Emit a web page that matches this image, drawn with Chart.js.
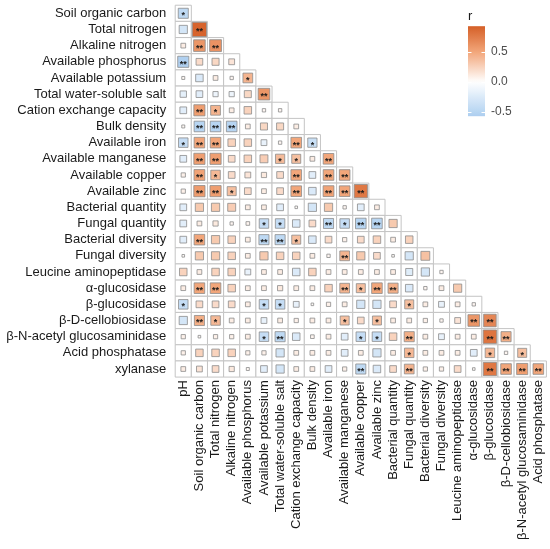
<!DOCTYPE html>
<html>
<head>
<meta charset="utf-8">
<script src="https://cdn.jsdelivr.net/npm/chart.js@4.4.1/dist/chart.umd.min.js"></script>
<style>
  html, body { margin: 0; padding: 0; background: #fff; }
  #wrap { width: 550px; height: 549px; }
</style>
</head>
<body>
<div id="wrap"><canvas id="corr" width="550" height="549"></canvas></div>
<script>
// ---- data ----
const colLabels = [
  'pH', 'Soil organic carbon', 'Total nitrogen', 'Alkaline nitrogen', 'Available phosphorus',
  'Available potassium', 'Total water-soluble salt', 'Cation exchange capacity', 'Bulk density',
  'Available iron', 'Available manganese', 'Available copper', 'Available zinc',
  'Bacterial quantity', 'Fungal quantity', 'Bacterial diversity', 'Fungal diversity',
  'Leucine aminopeptidase', 'α-glucosidase', 'β-glucosidase', 'β-D-cellobiosidase',
  'β-N-acetyl glucosaminidase', 'Acid phosphatase'
];
const rowLabels = colLabels.slice(1).concat(['xylanase']);

// r values, row i holds columns 0..i (lower triangle)
const corrR = [
  [-0.45],
  [-0.3, 0.9],
  [0.1, 0.6, 0.62],
  [-0.55, 0.2, 0.22, 0.15],
  [0.04, -0.25, 0.1, 0.05, 0.42],
  [-0.18, -0.2, -0.12, -0.12, 0.22, 0.6],
  [-0.2, 0.55, 0.42, 0.1, 0.25, 0.05, 0.05],
  [0.04, -0.5, -0.5, -0.5, 0.1, 0.22, 0.22, 0.1],
  [-0.4, 0.5, 0.5, 0.25, 0.25, -0.15, 0.05, 0.5, -0.38],
  [-0.2, 0.55, 0.55, 0.2, 0.25, 0.28, 0.38, 0.36, 0.1, 0.5],
  [0.08, 0.52, 0.4, 0.2, 0.15, 0.12, 0.2, 0.5, -0.2, 0.5, 0.5],
  [0.08, 0.56, 0.55, 0.36, 0.2, 0.1, 0.2, 0.5, -0.25, 0.52, 0.5, 0.78],
  [-0.2, 0.3, 0.3, 0.28, 0.1, 0.1, -0.2, 0.03, -0.3, 0.3, 0.05, -0.2, 0.1],
  [-0.2, 0.1, 0.12, 0.05, 0.06, -0.4, -0.4, -0.25, 0.2, -0.45, -0.4, -0.5, -0.5, 0.3],
  [-0.2, 0.5, 0.3, 0.25, 0.1, -0.45, -0.45, 0.36, -0.25, 0.2, 0.08, 0.2, 0.25, 0.1, 0.25],
  [0.03, 0.3, 0.3, 0.25, 0.1, 0.3, 0.25, 0.25, 0.1, 0.05, 0.42, 0.3, 0.2, 0.03, -0.3, 0.35],
  [0.25, 0.1, 0.25, 0.25, -0.15, 0.1, 0.1, -0.25, 0.25, 0.1, 0.1, 0.1, 0.1, 0.1, -0.22, -0.3, 0.05],
  [0.1, 0.5, 0.5, 0.25, 0.1, 0.1, 0.12, 0.1, 0.1, 0.25, 0.42, 0.36, 0.5, 0.45, -0.25, 0.05, 0.1, 0.3],
  [-0.4, 0.2, 0.2, 0.2, 0.1, -0.4, -0.4, -0.15, 0.03, 0.08, 0.1, -0.3, -0.3, 0.2, 0.36, 0.1, -0.15, 0.1, 0.05],
  [-0.3, 0.45, 0.4, 0.1, 0.1, -0.15, 0.1, 0.08, 0.1, 0.1, 0.36, 0.2, 0.36, 0.1, 0.1, 0.08, 0.05, 0.15, 0.6, 0.7],
  [0.08, 0.03, 0.08, 0.08, 0.1, -0.4, -0.45, -0.25, 0.06, 0.1, -0.2, -0.4, -0.4, 0.25, 0.45, 0.1, -0.15, 0.1, 0.1, 0.8, 0.45],
  [0.08, 0.25, 0.25, 0.25, 0.08, 0.08, -0.3, 0.1, 0.1, 0.1, -0.2, 0.1, -0.3, 0.1, 0.4, 0.1, 0.1, 0.1, -0.2, 0.4, 0.05, 0.36],
  [0.1, 0.15, 0.2, 0.12, 0.04, -0.2, -0.3, 0.1, 0.1, -0.2, 0.08, -0.45, -0.25, 0.2, 0.42, 0.08, 0.08, 0.2, 0.03, 0.78, 0.5, 0.55, 0.5]
];

// significance: 0 none, 1 = *, 2 = **
const corrSig = [
  [1],
  [0, 2],
  [0, 2, 2],
  [2, 0, 0, 0],
  [0, 0, 0, 0, 1],
  [0, 0, 0, 0, 0, 2],
  [0, 2, 1, 0, 0, 0, 0],
  [0, 2, 2, 2, 0, 0, 0, 0],
  [1, 2, 2, 0, 0, 0, 0, 2, 1],
  [0, 2, 2, 0, 0, 0, 1, 1, 0, 2],
  [0, 2, 1, 0, 0, 0, 0, 2, 0, 2, 2],
  [0, 2, 2, 1, 0, 0, 0, 2, 0, 2, 2, 2],
  [0, 0, 0, 0, 0, 0, 0, 0, 0, 0, 0, 0, 0],
  [0, 0, 0, 0, 0, 1, 1, 0, 0, 2, 1, 2, 2, 0],
  [0, 2, 0, 0, 0, 2, 2, 1, 0, 0, 0, 0, 0, 0, 0],
  [0, 0, 0, 0, 0, 0, 0, 0, 0, 0, 2, 0, 0, 0, 0, 0],
  [0, 0, 0, 0, 0, 0, 0, 0, 0, 0, 0, 0, 0, 0, 0, 0, 0],
  [0, 2, 2, 0, 0, 0, 0, 0, 0, 0, 2, 1, 2, 2, 0, 0, 0, 0],
  [1, 0, 0, 0, 0, 1, 1, 0, 0, 0, 0, 0, 0, 0, 1, 0, 0, 0, 0],
  [0, 2, 1, 0, 0, 0, 0, 0, 0, 0, 1, 0, 1, 0, 0, 0, 0, 0, 2, 2],
  [0, 0, 0, 0, 0, 1, 2, 0, 0, 0, 0, 1, 1, 0, 2, 0, 0, 0, 0, 2, 2],
  [0, 0, 0, 0, 0, 0, 0, 0, 0, 0, 0, 0, 0, 0, 1, 0, 0, 0, 0, 1, 0, 1],
  [0, 0, 0, 0, 0, 0, 0, 0, 0, 0, 0, 2, 0, 0, 2, 0, 0, 0, 0, 2, 2, 2, 2]
];

const legendTicks = [0.5, 0.0, -0.5];
const legendRange = [-0.57, 0.93];

// ---- helpers ----
const FONT = '"Liberation Sans", Arial, Helvetica, sans-serif';
const posStops = [[0, [255, 255, 255]], [0.5, [242, 166, 122]], [1, [208, 84, 26]]];
const negStops = [[0, [255, 255, 255]], [0.5, [183, 213, 242]], [1, [108, 166, 226]]];

function mix(stops, t) {
  t = Math.min(1, Math.max(0, t));
  for (let k = 1; k < stops.length; k++) {
    if (t <= stops[k][0]) {
      const a = stops[k - 1], b = stops[k];
      const f = (t - a[0]) / (b[0] - a[0]);
      const c = a[1].map((v, i) => Math.round(v + (b[1][i] - v) * f));
      return `rgb(${c[0]},${c[1]},${c[2]})`;
    }
  }
  const c = stops[stops.length - 1][1];
  return `rgb(${c[0]},${c[1]},${c[2]})`;
}
const colorFor = r => r >= 0 ? mix(posStops, r) : mix(negStops, -r);

function cellSide(chart) {
  const xs = chart.scales.x, ys = chart.scales.y;
  if (!xs || !ys) return 16;
  const w = Math.abs(xs.getPixelForValue(1) - xs.getPixelForValue(0));
  const h = Math.abs(ys.getPixelForValue(1) - ys.getPixelForValue(0));
  return Math.min(w, h);
}

const cellPoints = [];
const valuePoints = [];
corrR.forEach((row, i) => row.forEach((r, j) => {
  cellPoints.push({ x: j, y: i });
  valuePoints.push({ x: j, y: i, r: r, s: corrSig[i][j] });
}));

// ---- plugins ----
const starPlugin = {
  id: 'stars',
  afterDatasetsDraw(chart) {
    const meta = chart.getDatasetMeta(1);
    const ctx = chart.ctx;
    ctx.save();
    ctx.fillStyle = '#1a1a1a';
    ctx.font = 'bold 9px ' + FONT;
    ctx.textAlign = 'center';
    ctx.textBaseline = 'middle';
    meta.data.forEach((el, k) => {
      const s = valuePoints[k].s;
      if (!s) return;
      ctx.fillText(s === 2 ? '**' : '*', el.x, el.y + 2.5);
    });
    ctx.restore();
  }
};

const colorbarPlugin = {
  id: 'colorbar',
  afterDraw(chart) {
    const ctx = chart.ctx;
    const x0 = 468, w = 17;
    const yOf = v => 82 - v * 60;
    const yTop = yOf(legendRange[1]), yBot = yOf(legendRange[0]);
    ctx.save();
    const g = ctx.createLinearGradient(0, yTop, 0, yBot);
    for (let k = 0; k <= 30; k++) {
      const v = legendRange[1] - (legendRange[1] - legendRange[0]) * k / 30;
      g.addColorStop(k / 30, colorFor(v));
    }
    ctx.fillStyle = g;
    ctx.fillRect(x0, yTop, w, yBot - yTop);
    ctx.strokeStyle = '#ffffff';
    ctx.lineWidth = 1;
    ctx.fillStyle = '#4d4d4d';
    ctx.font = '12px ' + FONT;
    ctx.textAlign = 'left';
    ctx.textBaseline = 'middle';
    legendTicks.forEach(v => {
      const y = Math.round(yOf(v)) + 0.5;
      ctx.beginPath();
      ctx.moveTo(x0, y); ctx.lineTo(x0 + 3.5, y);
      ctx.moveTo(x0 + w - 3.5, y); ctx.lineTo(x0 + w, y);
      ctx.stroke();
      ctx.fillText(v.toFixed(1), x0 + w + 6, yOf(v));
    });
    ctx.fillStyle = '#1a1a1a';
    ctx.font = '13px ' + FONT;
    ctx.fillText('r', x0, 16);
    ctx.restore();
  }
};

// ---- chart ----
new Chart(document.getElementById('corr'), {
  type: 'scatter',
  data: {
    datasets: [
      {
        label: 'cells',
        order: 2,
        data: cellPoints,
        pointStyle: 'rect',
        pointRadius: c => cellSide(c.chart) / Math.SQRT2,
        backgroundColor: '#ffffff',
        borderColor: '#c4c4c4',
        borderWidth: 1,
        clip: false
      },
      {
        label: 'r',
        order: 1,
        data: valuePoints,
        pointStyle: 'rect',
        pointRadius: c => c.raw ? cellSide(c.chart) * 0.93 * Math.sqrt(Math.abs(c.raw.r)) / Math.SQRT2 : 3,
        backgroundColor: c => c.raw ? colorFor(c.raw.r) : '#fff',
        borderColor: '#8c8c8c',
        borderWidth: 0.8,
        clip: false
      }
    ]
  },
  options: {
    responsive: false,
    animation: false,
    events: [],
    layout: { padding: { top: 5.2, right: 3.6, left: 0, bottom: 0 } },
    plugins: { legend: { display: false }, tooltip: { enabled: false } },
    scales: {
      x: {
        type: 'linear',
        min: -0.5, max: colLabels.length - 0.5,
        grid: { display: false, drawTicks: false },
        border: { display: false },
        afterBuildTicks: s => { s.ticks = colLabels.map((_, i) => ({ value: i })); },
        afterFit: s => { s.height = 171.9; s.paddingLeft = 0; s.paddingRight = 0; },
        ticks: {
          autoSkip: false, minRotation: 90, maxRotation: 90, padding: 3,
          color: '#1a1a1a', font: { family: FONT, size: 13 },
          callback: v => colLabels[v]
        }
      },
      y: {
        type: 'linear', reverse: true,
        min: -0.5, max: rowLabels.length - 0.5,
        grid: { display: false, drawTicks: false },
        border: { display: false },
        afterBuildTicks: s => { s.ticks = rowLabels.map((_, i) => ({ value: i })); },
        afterFit: s => { s.width = 175.2; s.paddingTop = 0; s.paddingBottom = 0; },
        ticks: {
          autoSkip: false, padding: 9,
          color: '#1a1a1a', font: { family: FONT, size: 13 },
          callback: v => rowLabels[v]
        }
      }
    }
  },
  plugins: [starPlugin, colorbarPlugin]
});
</script>
</body>
</html>
